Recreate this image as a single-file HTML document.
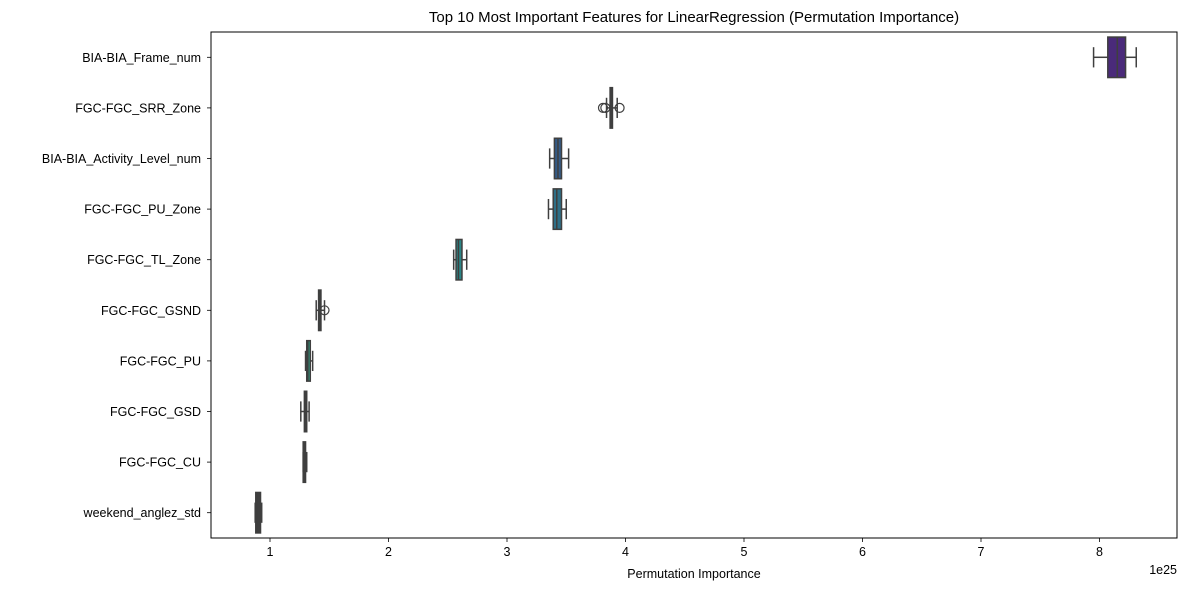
<!DOCTYPE html>
<html><head><meta charset="utf-8"><style>
body{margin:0;background:#fff;font-family:"Liberation Sans",sans-serif}
svg text{font-family:"Liberation Sans",sans-serif;fill:#000}
</style></head><body>
<svg id="c" width="1189" height="590"></svg>
<script>
const features=["BIA-BIA_Frame_num","FGC-FGC_SRR_Zone","BIA-BIA_Activity_Level_num","FGC-FGC_PU_Zone","FGC-FGC_TL_Zone","FGC-FGC_GSND","FGC-FGC_PU","FGC-FGC_GSD","FGC-FGC_CU","weekend_anglez_std"];
const q1=[8.07,3.87,3.40,3.39,2.57,1.41,1.31,1.29,1.28,0.88];
const med=[8.15,3.88,3.43,3.42,2.59,1.42,1.32,1.30,1.29,0.90];
const q3=[8.22,3.89,3.46,3.46,2.62,1.43,1.34,1.31,1.30,0.92];
const wlo=[7.95,3.84,3.36,3.35,2.55,1.39,1.30,1.26,1.28,0.875];
const whi=[8.31,3.93,3.52,3.50,2.66,1.46,1.36,1.33,1.31,0.93];
const outliers=[[],[3.81,3.83,3.95],[],[],[],[1.46],[],[],[],[]];
const xticks=[1,2,3,4,5,6,7,8];
const colors=["#4a2a7a","#3e3f7d","#355b86","#2e6f87","#2a8586","#2d9a7e","#2d9a7e","#3f3f3f","#74bb55","#3f3f3f"];
const L=211,R=1177,T=32,B=538;
const x=v=>151.5+v*118.5;
const step=(B-T)/features.length;
const y=i=>T+step*(i+0.5);
const svg=document.getElementById('c');
const NS="http://www.w3.org/2000/svg";
function mk(t,a,p){const e=document.createElementNS(NS,t);for(const k in a)e.setAttribute(k,a[k]);(p||svg).appendChild(e);return e;}
let t=mk('text',{x:(L+R)/2,y:22,'text-anchor':'middle','font-size':15});t.textContent="Top 10 Most Important Features for LinearRegression (Permutation Importance)";


const edge="#3f3f3f",bh=step*0.8;
features.forEach((f,i)=>{
 const g=mk('g',{});
 
 
 const cy=y(i);
 mk('line',{x1:x(wlo[i]),x2:x(q1[i]),y1:cy,y2:cy,stroke:edge,'stroke-width':1.5},g);
 mk('line',{x1:x(q3[i]),x2:x(whi[i]),y1:cy,y2:cy,stroke:edge,'stroke-width':1.5},g);
 mk('line',{x1:x(wlo[i]),x2:x(wlo[i]),y1:cy-bh/4,y2:cy+bh/4,stroke:edge,'stroke-width':1.5},g);
 mk('line',{x1:x(whi[i]),x2:x(whi[i]),y1:cy-bh/4,y2:cy+bh/4,stroke:edge,'stroke-width':1.5},g);
 mk('rect',{x:x(q1[i]),y:cy-bh/2,width:Math.max(x(q3[i])-x(q1[i]),1),height:bh,fill:colors[i],stroke:edge,'stroke-width':1.5},g);
 mk('line',{x1:x(med[i]),x2:x(med[i]),y1:cy-bh/2,y2:cy+bh/2,stroke:edge,'stroke-width':1.5},g);
 outliers[i].forEach(o=>mk('circle',{cx:x(o),cy:cy,r:4.5,fill:'none',stroke:edge,'stroke-width':1.2},g));
 const lt=mk('text',{x:L-10,y:cy+4.5,'text-anchor':'end','font-size':12.5});lt.textContent=f;
 
 
 mk('line',{x1:L-4,x2:L,y1:cy,y2:cy,stroke:'#000','stroke-width':0.8});
});
xticks.forEach(v=>{
 mk('line',{x1:x(v),x2:x(v),y1:B,y2:B+4,stroke:'#000','stroke-width':0.8});
 const tt=mk('text',{x:x(v),y:B+18,'text-anchor':'middle','font-size':12.5});tt.textContent=v;
 
 
});
const fr=mk('rect',{x:L,y:T,width:R-L,height:B-T,fill:'none',stroke:'#000','stroke-width':1});


let xl=mk('text',{x:(L+R)/2,y:578,'text-anchor':'middle','font-size':12.5});xl.textContent="Permutation Importance";


let ex=mk('text',{x:R,y:574,'text-anchor':'end','font-size':12.5});ex.textContent="1e25";


</script>
</body></html>
